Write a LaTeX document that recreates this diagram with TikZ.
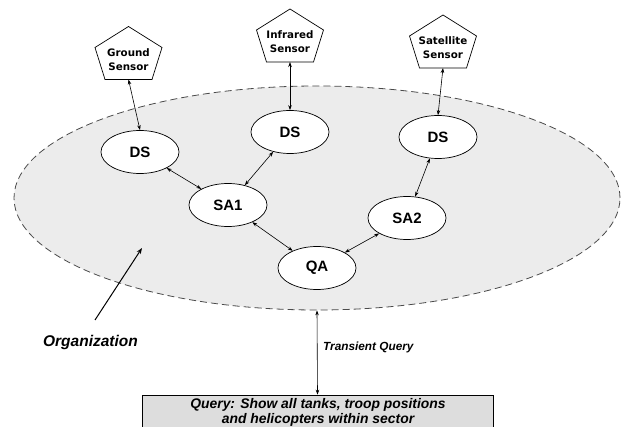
\documentclass[tikz,border=0pt]{standalone}
\usepackage{fontspec}
\setmainfont{Liberation Sans}
\newfontfamily\sensorfont{DejaVu Sans}
\usetikzlibrary{arrows.meta,shapes.geometric}
\definecolor{orgfill}{HTML}{ECECEC}
\definecolor{qfill}{HTML}{DDDDDD}
\definecolor{dashgray}{HTML}{4A4A4A}
\newcommand\pentshape[1]{\draw[line width=0.7pt,shift={(#1)}] (0,-33) -- (33.5,-12) -- (23.5,20) -- (-23.5,20) -- (-33.5,-12) -- cycle;}
\begin{document}
\begin{tikzpicture}[x=1pt,y=-1pt,
  agent/.style={ellipse,draw,fill=white,line width=0.7pt,minimum width=78pt,minimum height=43pt,inner sep=0pt,font=\fontsize{15}{17}\selectfont\bfseries},
  sensortext/.style={align=center,inner sep=0pt,font=\sensorfont\fontsize{10.3}{14}\selectfont\bfseries},
  link/.style={{Stealth[length=5pt,width=3.5pt]}-{Stealth[length=5pt,width=3.5pt]},line width=0.6pt},
  onehead/.style={-{Stealth[length=6pt,width=4.5pt]},line width=1pt},
  lbl/.style={inner sep=0pt,font=\bfseries\itshape},
]
\clip (0,0) rectangle (626,427);
\useasboundingbox (0,0) rectangle (626,427);

% organization ellipse
\node[ellipse,draw=dashgray,dash pattern=on 7pt off 4pt,line width=0.8pt,fill=orgfill,
      minimum width=606pt,minimum height=224pt,inner sep=0pt] (org) at (317,198) {};

% sensors
\node[sensortext] (gs) at (128.5,59.5) {Ground\\Sensor};
\node[sensortext] (irs) at (290,42) {Infrared\\Sensor};
\node[sensortext] (sats) at (443,48) {Satellite\\Sensor};
\pentshape{gs}
\pentshape{irs}
\pentshape{sats}
\path (gs) ++(0,20) coordinate (gsb);
\path (irs) ++(0,20) coordinate (irsb);
\path (sats) ++(0,20) coordinate (satsb);

% agents
\node[agent] (ds1) at (140,152) {DS};
\node[agent] (ds2) at (290,132) {DS};
\node[agent] (ds3) at (438,137) {DS};
\node[agent] (sa1) at (228,205) {SA1};
\node[agent] (sa2) at (407,218) {SA2};
\node[agent] (qa) at (317,268) {QA};

% links
\draw[link] (gsb) -- (ds1.north);
\draw[link] (irsb) -- (ds2.north);
\draw[link] (satsb) -- (ds3.north);
\draw[link] (ds1) -- (sa1);
\draw[link] (ds2) -- (sa1);
\draw[link] (ds3) -- (sa2);
\draw[link] (sa1) -- (qa);
\draw[link] (sa2) -- (qa);

% query box
\node[draw,fill=qfill,line width=0.6pt,minimum width=351pt,minimum height=45pt,inner sep=0pt] (qbox) at (317.5,417.5) {};
\node[lbl,align=center,font=\fontsize{13.9}{15}\selectfont\bfseries\itshape] (qtext) at (318,412) {Query: Show all tanks, troop positions\\and helicopters within sector};

% transient query
\draw[link] (org.south) -- (qbox.north);
\node[lbl,anchor=west,font=\fontsize{11.8}{14}\selectfont\bfseries\itshape] (tq) at (323,347) {Transient Query};

% organization label
\coordinate (orgtail) at (95,320);
\coordinate (orghead) at (142,248);
\draw[onehead] (orgtail) -- (orghead);
\node[lbl,font=\fontsize{15.5}{18}\selectfont\bfseries\itshape] (orglbl) at (90.5,342) {Organization};
\end{tikzpicture}
\end{document}
